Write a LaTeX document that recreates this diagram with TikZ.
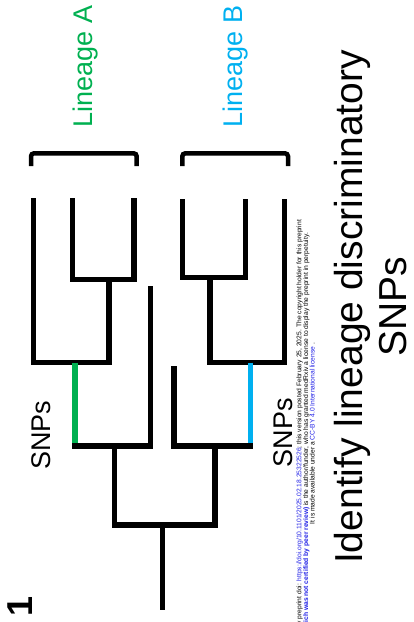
\documentclass[tikz,border=0pt]{standalone}
\usepackage{fontspec}
\setmainfont{Liberation Sans}
\definecolor{linA}{HTML}{00B050}
\definecolor{linB}{HTML}{00B0F0}
\definecolor{lnk}{HTML}{2020E6}
\begin{document}
\begin{tikzpicture}[x=1pt,y=-1pt,
  tree/.style={line width=5.3pt, line cap=rect, line join=miter, draw=black},
  snpA/.style={line width=5.3pt, line cap=butt, draw=linA},
  snpB/.style={line width=5.3pt, line cap=butt, draw=linB},
  bracketline/.style={line width=4.5pt, line cap=butt, rounded corners=3pt, draw=black},
  lbl/.style={rotate=90, inner sep=0pt, font=\fontsize{27}{30}\selectfont}]
\useasboundingbox (0,0) rectangle (414,622);
% tree coordinates
\coordinate (a1) at (33.3,201);
\coordinate (a2) at (72.3,201);
\coordinate (a3) at (134,201);
\coordinate (a23) at (109,279.3);
\coordinate (a123) at (75,362.7);
\coordinate (a4) at (150.7,288.3);
\coordinate (aN) at (114.3,446);
\coordinate (b1) at (182.8,202);
\coordinate (b2) at (245.3,202);
\coordinate (b3) at (284.7,202);
\coordinate (b12) at (210,277.3);
\coordinate (b123) at (250.3,362.7);
\coordinate (b4) at (174,368.6);
\coordinate (bN) at (215,446);
\coordinate (root) at (162.7,525);
\coordinate (rootend) at (162.7,607.3);
% lineage A
\draw[tree] (a2) |- (a3 |- a23) -- (a3);
\draw[tree] (a23) |- (a1 |- a123) -- (a1);
\draw[snpA] (a123) -- (a123 |- aN);
\draw[tree] (a123 |- aN) -| (a4);
\draw[tree] (aN) -- (aN |- root);
% lineage B
\draw[tree] (b1) |- (b2 |- b12) -- (b2);
\draw[tree] (b12) |- (b3 |- b123) -- (b3);
\draw[snpB] (b123) -- (b123 |- bN);
\draw[tree] (b123 |- bN) -| (b4);
\draw[tree] (bN) -- (bN |- root);
% root
\draw[tree] (aN |- root) -- (bN |- root);
\draw[tree] (root) -- (rootend);
% brackets
\coordinate (brA1) at (31,166);
\coordinate (brA2) at (136.7,166);
\coordinate (brB1) at (182.3,166);
\coordinate (brB2) at (288,166);
\draw[bracketline] (brA1) -- ++(0,-12.7) -| (brA2);
\draw[bracketline] (brB1) -- ++(0,-12.7) -| (brB2);
% labels
\node[lbl, text=linA] (linAlbl) at (85.2,66.5) {Lineage A};
\node[lbl, text=linB] (linBlbl) at (235.5,66.5) {Lineage B};
\node[lbl] (snpAlbl) at (41.7,435) {SNPs};
\node[lbl] (snpBlbl) at (283.3,432.5) {SNPs};
\node[rotate=90, inner sep=0pt, font=\fontsize{36}{40}\selectfont\bfseries] (panel) at (20,606) {1};
\node[rotate=90, inner sep=0pt, align=center, font=\fontsize{39}{44}\selectfont] (title) at (371,307) {Identify lineage discriminatory\\SNPs};
\node[rotate=90, inner sep=0pt, align=center, font=\fontsize{6.7}{6.6}\selectfont] (hdr) at (305.7,433.5) {medRxiv preprint doi: \textcolor{lnk}{https://doi.org/10.1101/2025.02.18.25322526}; this version posted February 25, 2025. The copyright holder for this preprint\\ \textcolor{lnk}{\bfseries(which was not certified by peer review)} is the author/funder, who has granted medRxiv a license to display the preprint in perpetuity.\\ It is made available under a \textcolor{lnk}{CC-BY 4.0 International license} .};
\end{tikzpicture}
\end{document}
